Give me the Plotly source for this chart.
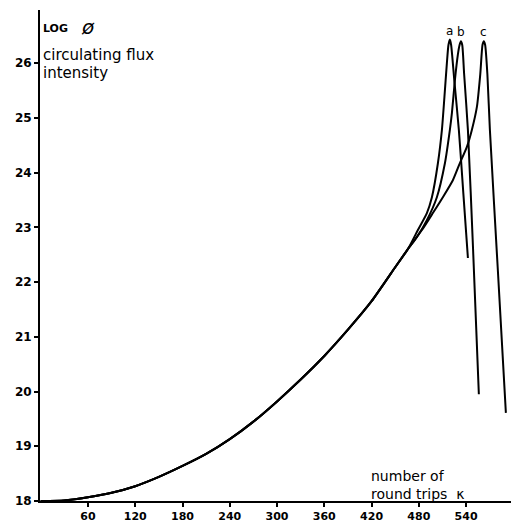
import plotly.graph_objects as go

# Shared rising part (number of round trips K, log flux)
base_k = [0, 30, 60, 90, 120, 150, 180, 210, 240, 270, 300, 330, 360, 390, 420, 450, 466]
base_log = [18.0, 18.01, 18.07, 18.15, 18.27, 18.44, 18.64, 18.86, 19.13, 19.45, 19.82, 20.22, 20.65, 21.13, 21.65, 22.27, 22.6]

# Curve a
a_k = [478.8, 490.2, 496.6, 504.2, 509.3, 512.5, 515.6, 517.6, 519.4, 521.0, 525.0, 530.8, 536.5, 542.3]
a_log = [22.95, 23.26, 23.55, 24.17, 24.78, 25.38, 26.0, 26.33, 26.43, 26.33, 25.69, 24.78, 23.62, 22.44]

# Curve b
b_k = [477.5, 490.2, 502.9, 513.1, 519.4, 522.0, 525.8, 529.5, 531.7, 533.4, 535.1, 537.5, 542.3, 548.9, 556.2]
b_log = [22.82, 23.13, 23.55, 24.17, 24.78, 25.09, 25.69, 26.15, 26.33, 26.40, 26.33, 25.8, 24.78, 22.58, 19.95]

# Curve c
c_k = [483.9, 497.8, 510.5, 523.2, 532.0, 541.0, 547.3, 553.7, 558.0, 560.8, 562.5, 564.2, 567.0, 570.2, 580.3, 590.5]
c_log = [22.95, 23.26, 23.55, 23.86, 24.17, 24.47, 24.78, 25.2, 25.8, 26.33, 26.40, 26.33, 25.8, 24.78, 22.22, 19.61]

x_ticks = [60, 120, 180, 240, 300, 360, 420, 480, 540]
y_ticks = [18, 19, 20, 21, 22, 23, 24, 25, 26]
labels = ["a", "b", "c"]

fig = go.Figure()
line = dict(color="black", width=2, shape="spline", smoothing=0.6)
for k, v in [(a_k, a_log), (b_k, b_log), (c_k, c_log)]:
    fig.add_trace(go.Scatter(x=base_k + k, y=base_log + v, mode="lines",
                             line=line, showlegend=False, hoverinfo="skip"))

FAM = "DejaVu Sans, Liberation Sans, sans-serif"
fig.update_layout(
    width=511, height=524,
    margin=dict(l=40, r=0, t=10, b=23),
    paper_bgcolor="white", plot_bgcolor="white",
    xaxis=dict(range=[-0.9, 597], tickvals=x_ticks, ticktext=[str(t) for t in x_ticks],
               showgrid=False, zeroline=False, showline=True, linecolor="black", linewidth=2,
               ticks="outside", ticklen=4, tickwidth=2, tickcolor="black",
               tickfont=dict(family=FAM, size=11, color="black", weight="bold")),
    yaxis=dict(range=[18, 26.97], tickvals=y_ticks, ticktext=[str(t) for t in y_ticks],
               showgrid=False, zeroline=False, showline=True, linecolor="black", linewidth=2,
               ticks="outside", ticklen=4, tickwidth=2, tickcolor="black",
               tickfont=dict(family=FAM, size=12, color="black", weight="bold")),
)

# peak labels
peaks = [(a_k[a_log.index(max(a_log))], max(a_log)),
         (b_k[b_log.index(max(b_log))], max(b_log)),
         (c_k[c_log.index(max(c_log))], max(c_log))]
for lab, (pk, pv) in zip(labels, peaks):
    fig.add_annotation(x=pk, y=pv, text=lab, showarrow=False, yanchor="bottom", yshift=0,
                       font=dict(family=FAM, size=12, color="black"))

def txt(x, y, s, size=15, **kw):
    fig.add_annotation(xref="paper", yref="paper", x=x, y=y, xanchor="left", yanchor="middle",
                       text=s, showarrow=False, align="left", borderpad=0,
                       font=dict(family=FAM, size=size, color="black", **kw))

# positions in paper coords: plot spans page x 40..511, y 10..501
txt(0.004, (501 - 28) / 491, "<b>LOG</b>", size=11)
txt(0.085, (501 - 27) / 491, "<i>ø</i>", size=20)
txt(0.004, (501 - 55) / 491, "circulating flux")
txt(0.004, (501 - 73) / 491, "intensity")
txt(0.70, (501 - 485) / 491, "number of<br>round trips  κ", size=14)

fig.write_html("out.html", config={"displayModeBar": False},
               post_script="document.body.style.margin='0';document.body.style.overflow='hidden';")
